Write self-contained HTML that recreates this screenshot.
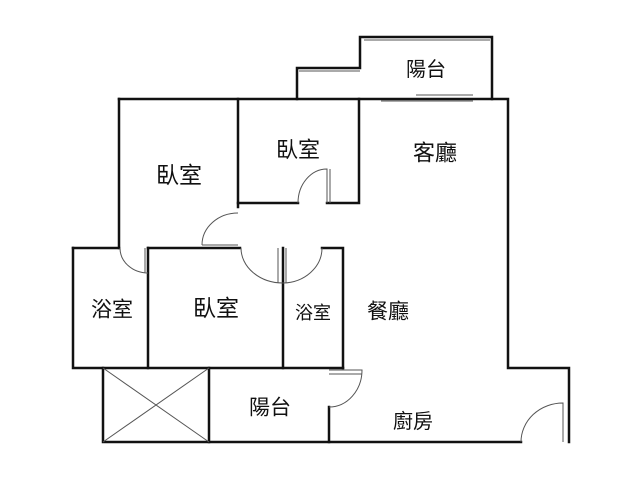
<!DOCTYPE html><html><head><meta charset="utf-8"><style>body{margin:0;background:#fff}svg{display:block}text{font-family:"Liberation Sans","Noto Sans CJK TC",sans-serif;fill:#111;text-anchor:middle;dominant-baseline:central}</style></head><body>
<svg width="640" height="480" viewBox="0 0 640 480">
<g stroke="#111" stroke-width="2.5" fill="none" stroke-linecap="square">
<path d="M119 99H508V368H569V442"/>
<path d="M119 99V248"/>
<path d="M238 99V207"/>
<path d="M238 203H298M327 203H359V99"/>
<path d="M297 99V68H360V37H492V99"/>
<path d="M73 248H119M148 248H240M322 248H343V368M283 248V368"/>
<path d="M73 248V368H343"/>
<path d="M148 248V368"/>
<path d="M103 368V442H521"/>
<path d="M209 368V442"/>
<path d="M329 407V442"/>
</g>
<g stroke="#555" stroke-width="1" fill="none">
<path d="M299 71H360M364 40H490"/>
<path d="M381 101H473M416 95H473"/>
<path d="M298 203A29 34 0 0 1 327 169V203M330 169V203"/>
<path d="M202 245A36 32 0 0 1 238 213M202 245H238"/>
<path d="M120 248A28 25 0 0 0 148 273M145 248V273"/>
<path d="M241 248A42 35 0 0 0 283 283A40 35 0 0 0 322 248M278 248V283M286 248V283"/>
<path d="M329 370H362A33 37 0 0 1 329 407M329 374H362"/>
<path d="M521 442A42 39 0 0 1 563 403V442"/>
<path d="M103 368L209 442M209 368L103 442"/>
</g>
<text x="426" y="70" font-size="20">陽台</text>
<text x="179" y="175" font-size="23">臥室</text>
<text x="298" y="150" font-size="22">臥室</text>
<text x="435" y="153" font-size="22">客廳</text>
<text x="112" y="310" font-size="21">浴室</text>
<text x="216" y="308" font-size="23">臥室</text>
<text x="313" y="313" font-size="18">浴室</text>
<text x="388" y="312" font-size="21">餐廳</text>
<text x="270" y="408" font-size="21">陽台</text>
<text x="413" y="422" font-size="20">廚房</text>
</svg></body></html>
